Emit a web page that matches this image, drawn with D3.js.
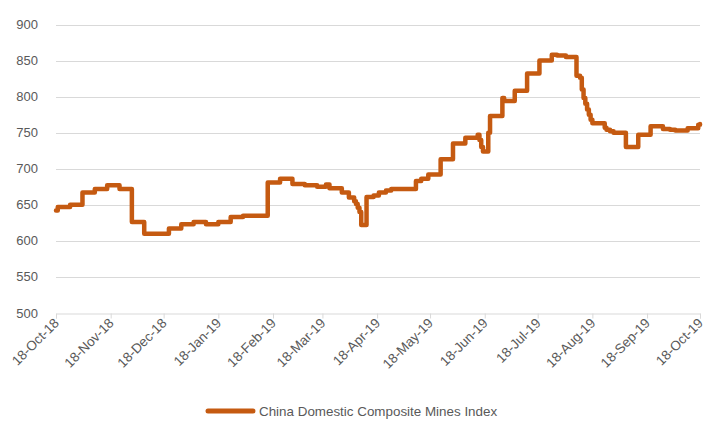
<!DOCTYPE html>
<html>
<head>
<meta charset="utf-8">
<script src="https://cdn.jsdelivr.net/npm/d3@7"></script>
<style>
  body { margin: 0; background: #fff; }
  text { font-family: "Liberation Sans", Arial, sans-serif; fill: #595959; }
</style>
</head>
<body>
<svg id="chart"></svg>
<script>
// index readings (change points, value holds until next date)
const dates = [
  "2018-10-18", "2018-10-19", "2018-10-26", "2018-11-02", "2018-11-09", "2018-11-16",
  "2018-11-23", "2018-11-30", "2018-12-07", "2018-12-21", "2018-12-28", "2019-01-04",
  "2019-01-11", "2019-01-18", "2019-01-25", "2019-02-01", "2019-02-15", "2019-02-22",
  "2019-03-01", "2019-03-08", "2019-03-15", "2019-03-20", "2019-03-22", "2019-03-29",
  "2019-04-02", "2019-04-05", "2019-04-06", "2019-04-07", "2019-04-08", "2019-04-09",
  "2019-04-12", "2019-04-16", "2019-04-19", "2019-04-23", "2019-04-26", "2019-05-10",
  "2019-05-13", "2019-05-17", "2019-05-24", "2019-05-31", "2019-06-07", "2019-06-14",
  "2019-06-15", "2019-06-16", "2019-06-17", "2019-06-20", "2019-06-21", "2019-06-28",
  "2019-06-29", "2019-07-05", "2019-07-12", "2019-07-19", "2019-07-26", "2019-07-29",
  "2019-08-03", "2019-08-09", "2019-08-11", "2019-08-12", "2019-08-13", "2019-08-14",
  "2019-08-15", "2019-08-16", "2019-08-17", "2019-08-18", "2019-08-25", "2019-08-26",
  "2019-08-28", "2019-08-30", "2019-09-06", "2019-09-13", "2019-09-20", "2019-09-27",
  "2019-10-01", "2019-10-04", "2019-10-11", "2019-10-17", "2019-10-18"
];
const values = [
  642, 647, 650, 667, 672, 677,
  672, 626, 610, 617, 623, 626,
  623, 626, 633, 635, 681, 686,
  679, 677, 675, 678, 673, 667,
  660, 655, 651, 646, 640, 622,
  661, 663, 667, 670, 672, 683,
  686, 692, 713, 735, 743, 747,
  740, 730, 724, 750, 773, 798,
  794, 808, 832, 850, 858, 857,
  855, 829, 826, 810, 798, 790,
  782, 775, 768, 763, 757, 754,
  752, 750, 730, 747, 759, 755,
  754, 753, 756, 761, 762
];
const yTicks = [500, 550, 600, 650, 700, 750, 800, 850, 900];
const xTickDates = [
  "2018-10-18", "2018-11-18", "2018-12-18", "2019-01-18", "2019-02-18", "2019-03-18",
  "2019-04-18", "2019-05-18", "2019-06-18", "2019-07-18", "2019-08-18", "2019-09-18",
  "2019-10-18"
];
const seriesName = "China Domestic Composite Mines Index";

const W = 705, H = 423;
const margin = { top: 24.5, right: 5, bottom: 110, left: 56 };
const parse = d3.timeParse("%Y-%m-%d");
const lineColor = "#c55a11";

const svg = d3.select("#chart").attr("width", W).attr("height", H);

const data = dates.map((d, i) => ({ date: parse(d), value: values[i] }));
const ticks = xTickDates.map(parse);

const x = d3.scaleTime()
  .domain([ticks[0], ticks[ticks.length - 1]])
  .range([margin.left, W - margin.right]);
const y = d3.scaleLinear()
  .domain([500, 900])
  .range([H - margin.bottom, margin.top]);

// gridlines
svg.append("g")
  .selectAll("line")
  .data(yTicks.slice(1))
  .enter()
  .append("line")
  .attr("x1", margin.left)
  .attr("x2", W - margin.right)
  .attr("y1", d => Math.round(y(d)) + 0.5)
  .attr("y2", d => Math.round(y(d)) + 0.5)
  .attr("stroke", "#d9d9d9")
  .attr("stroke-width", 1);

// y labels
svg.append("g")
  .selectAll("text")
  .data(yTicks)
  .enter()
  .append("text")
  .attr("x", 38)
  .attr("y", d => y(d))
  .attr("dy", "0.35em")
  .attr("text-anchor", "end")
  .attr("font-size", "13px")
  .text(d => d);

// x axis
const xAxis = d3.axisBottom(x)
  .tickValues(ticks)
  .tickSize(5)
  .tickFormat(d3.timeFormat("%d-%b-%y"));

const gx = svg.append("g")
  .attr("transform", `translate(0,${Math.round(y(500)) + 0.5})`)
  .call(xAxis);

gx.select(".domain").attr("stroke", "#d9d9d9");
gx.selectAll(".tick line").attr("stroke", "#d9d9d9");
gx.selectAll(".tick text")
  .attr("font-size", "13.5px")
  .attr("font-family", "\"Liberation Sans\", Arial, sans-serif")
  .attr("fill", "#595959")
  .attr("text-anchor", "end")
  .attr("transform", "translate(0,7) rotate(-45)")
  .attr("dy", "0.35em")
  .attr("y", 0)
  .attr("x", 0);

// series
const line = d3.line()
  .x(d => x(d.date))
  .y(d => y(d.value))
  .curve(d3.curveStepAfter);

svg.append("path")
  .datum(data)
  .attr("fill", "none")
  .attr("stroke", lineColor)
  .attr("stroke-width", 4.5)
  .attr("stroke-linejoin", "round")
  .attr("stroke-linecap", "round")
  .attr("d", line);

// legend
const legend = svg.append("g").attr("transform", "translate(208,411)");
legend.append("line")
  .attr("x1", 0)
  .attr("x2", 45)
  .attr("stroke", lineColor)
  .attr("stroke-width", 5)
  .attr("stroke-linecap", "round");
legend.append("text")
  .attr("x", 51)
  .attr("dy", "0.35em")
  .attr("font-size", "13.4px")
  .text(seriesName);
</script>
</body>
</html>
